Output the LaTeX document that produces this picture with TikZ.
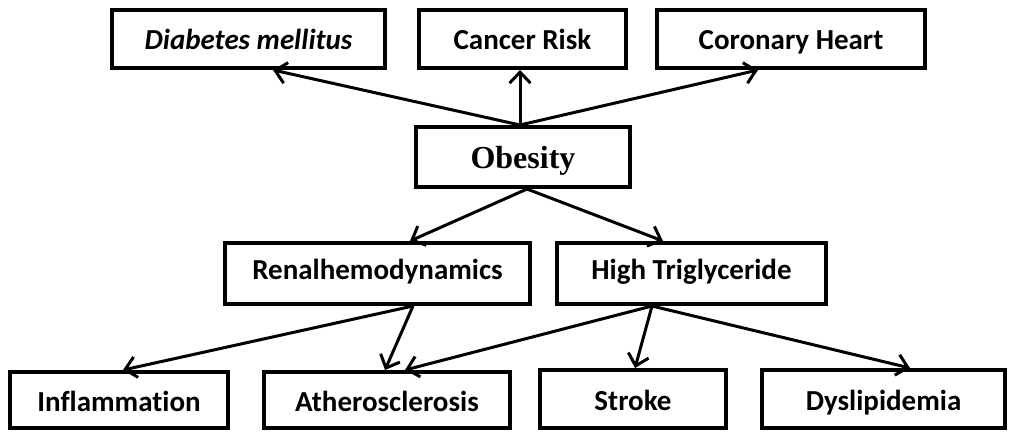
\documentclass[tikz,border=0pt]{standalone}
\usepackage{fontspec}
\setmainfont{Carlito}[Ligatures={NoCommon}]
\newfontfamily\timesfont{Liberation Serif}
\usetikzlibrary{arrows.meta}
\tikzset{
  box/.style={draw=black, line width=4pt, fill=white, inner sep=0pt,
    font=\fontsize{29}{32}\selectfont\bfseries, text height=20.3pt, text depth=0pt},
  midtext/.style={text height=18.7pt, text depth=6.7pt},
  lowtext/.style={text height=22pt, text depth=0pt},
  arr/.style={line width=3pt, -{Straight Barb[length=11pt,width=21pt,line width=3pt]}}
}
\begin{document}
\begin{tikzpicture}[x=1pt,y=-1pt]
\useasboundingbox (0,0) rectangle (1009,432);
% top row
\node[box, minimum width=273pt, minimum height=58pt] (dm) at (248.5,39) {\itshape Diabetes mellitus};
\node[box, minimum width=207pt, minimum height=58pt] (cr) at (522.5,39) {Cancer Risk};
\node[box, minimum width=268pt, minimum height=58pt] (ch) at (791,39) {Coronary Heart};
% middle
\node[box, minimum width=214pt, minimum height=60pt, font=\fontsize{32}{36}\selectfont\timesfont\bfseries, text height=22pt, text depth=0pt] (ob) at (523,157) {Obesity};
\node[box, midtext, minimum width=305pt, minimum height=61pt] (ren) at (377.5,273.5) {Renalhemodynamics};
\node[box, midtext, minimum width=269pt, minimum height=61pt] (ht) at (691.5,273.5) {High Triglyceride};
% bottom
\node[box, lowtext, minimum width=218pt, minimum height=56pt] (inf) at (119,400) {Inflammation};
\node[box, lowtext, minimum width=246pt, minimum height=56pt] (ath) at (387,400) {Atherosclerosis};
\node[box, lowtext, minimum width=186pt, minimum height=58pt] (str) at (633,399) {Stroke};
\node[box, lowtext, minimum width=243pt, minimum height=58pt] (dys) at (883.5,399) {Dyslipidemia};
% arrows from obesity upward
\draw[arr] ([xshift=-3pt]ob.north) -- ([xshift=24.5pt]dm.south);
\draw[arr] ([xshift=-3pt]ob.north) -- ([xshift=-2.5pt]cr.south);
\draw[arr] ([xshift=-3pt]ob.north) -- ([xshift=-33pt]ch.south);
% arrows from obesity downward
\draw[arr] ([xshift=4pt]ob.south) -- ([xshift=32.5pt]ren.north);
\draw[arr] ([xshift=4pt]ob.south) -- ([xshift=-28.5pt]ht.north);
% from renalhemodynamics
\draw[arr] ([xshift=35.5pt]ren.south) -- ([xshift=4pt]inf.north);
\draw[arr] ([xshift=35.5pt]ren.south) -- ([xshift=-2pt]ath.north);
% from high triglyceride
\draw[arr] ([xshift=-39.5pt]ht.south) -- ([xshift=18pt]ath.north);
\draw[arr] ([xshift=-39.5pt]ht.south) -- ([xshift=2pt]str.north);
\draw[arr] ([xshift=-39.5pt]ht.south) -- ([xshift=26.5pt]dys.north);
\end{tikzpicture}
\end{document}
